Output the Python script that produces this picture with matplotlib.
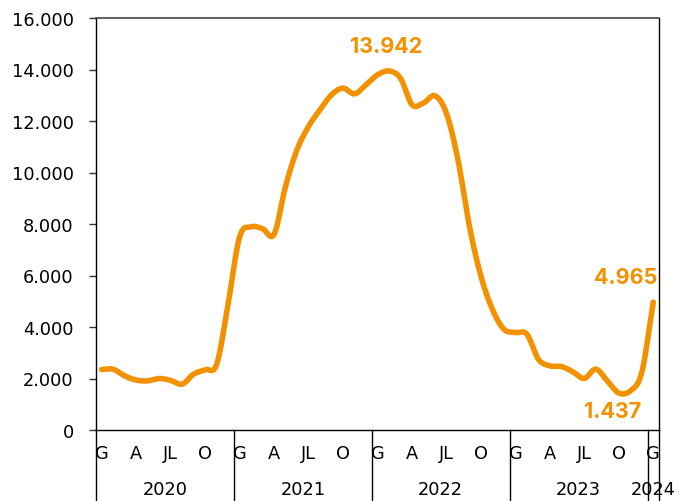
import matplotlib
matplotlib.use("Agg")
import matplotlib.pyplot as plt
import numpy as np

# monthly values, Jan 2020 -> Jan 2024
vals_2020 = [2350, 2360, 2100, 1940, 1910, 2000, 1925, 1780, 2170, 2340, 2550, 4900]
vals_2021 = [7500, 7890, 7815, 7600, 9466, 10887, 11790, 12437, 13018, 13277, 13056, 13405]
vals_2022 = [13793, 13942, 13663, 12630, 12700, 12979, 12300, 10500, 7915, 5978, 4688, 3913]
vals_2023 = [3785, 3720, 2750, 2490, 2465, 2260, 2003, 2363, 1910, 1437, 1520, 2235]
vals_2024 = [4965]
values = vals_2020 + vals_2021 + vals_2022 + vals_2023 + vals_2024

month_labels = ["G", "", "", "A", "", "", "JL", "", "", "O", "", ""]
years = ["2020", "2021", "2022", "2023", "2024"]
months_per_year = [12, 12, 12, 12, 1]

labelled = {25: "13.942", 45: "1.437", 48: "4.965"}

orange = "#F39200"


def catmull_rom(x, y, n=20):
    # smooth line through the points, like Excel's "smoothed line"
    px = np.concatenate([[2 * x[0] - x[1]], x, [2 * x[-1] - x[-2]]])
    py = np.concatenate([[2 * y[0] - y[1]], y, [2 * y[-1] - y[-2]]])
    xs, ys = [], []
    t = np.linspace(0, 1, n, endpoint=False)
    for i in range(1, len(px) - 2):
        for p, out in ((px, xs), (py, ys)):
            p0, p1, p2, p3 = p[i - 1], p[i], p[i + 1], p[i + 2]
            out.append(0.5 * (2 * p1 + (-p0 + p2) * t
                              + (2 * p0 - 5 * p1 + 4 * p2 - p3) * t ** 2
                              + (-p0 + 3 * p1 - 3 * p2 + p3) * t ** 3))
    xs.append([x[-1]])
    ys.append([y[-1]])
    return np.concatenate(xs), np.concatenate(ys)


x = np.arange(len(values), dtype=float)
y = np.array(values, dtype=float)
sx, sy = catmull_rom(x, y)

fig = plt.figure(figsize=(6.79, 5.02), dpi=100)
ax = fig.add_axes([96 / 679, 71 / 502, 563 / 679, 412 / 502])

ax.plot(sx, sy, color=orange, lw=4, solid_capstyle="round", solid_joinstyle="round")

ax.set_xlim(-0.5, len(values) - 0.5)
ax.set_ylim(0, 16000)
ax.set_yticks(np.arange(0, 16001, 2000))
ax.set_yticklabels([f"{v:,}".replace(",", ".") for v in range(0, 16001, 2000)])
ax.tick_params(axis="y", length=5, width=1, pad=11, labelsize=12.8, color="#333333")

xt_labels = []
for n in months_per_year:
    xt_labels += month_labels[:n]
ax.set_xticks(x)
ax.set_xticklabels(xt_labels)
ax.tick_params(axis="x", length=0, pad=10, labelsize=12.8)

for s in ["left", "bottom", "right"]:
    ax.spines[s].set_color("black")
    ax.spines[s].set_linewidth(1)
ax.spines["top"].set_color("#444444")
ax.spines["top"].set_linewidth(1.2)

# year separators and year labels under the axis
tr = ax.get_xaxis_transform()
start = 0
for yr, n in zip(years, months_per_year):
    ax.plot([start - 0.5, start - 0.5], [0, -0.25], transform=tr, color="black",
            lw=1, clip_on=False)
    ax.text(start - 0.5 + n / 2, -0.143, yr, transform=tr, ha="center", va="center",
            fontsize=12.8)
    start += n
ax.plot([start - 0.5, start - 0.5], [0, -0.25], transform=tr, color="black",
        lw=1, clip_on=False)

offsets = {25: (-3, 25, "center"), 45: (-6, -18, "center"), 48: (4, 25, "right")}
for i, txt in labelled.items():
    dx, dy, ha = offsets[i]
    ax.annotate(txt, (x[i], y[i]), xytext=(dx, dy), textcoords="offset pixels",
                ha=ha, va="center", color=orange, fontsize=15.5, fontweight="bold",
                family="Inter")

fig.savefig("out.png", dpi=100)
